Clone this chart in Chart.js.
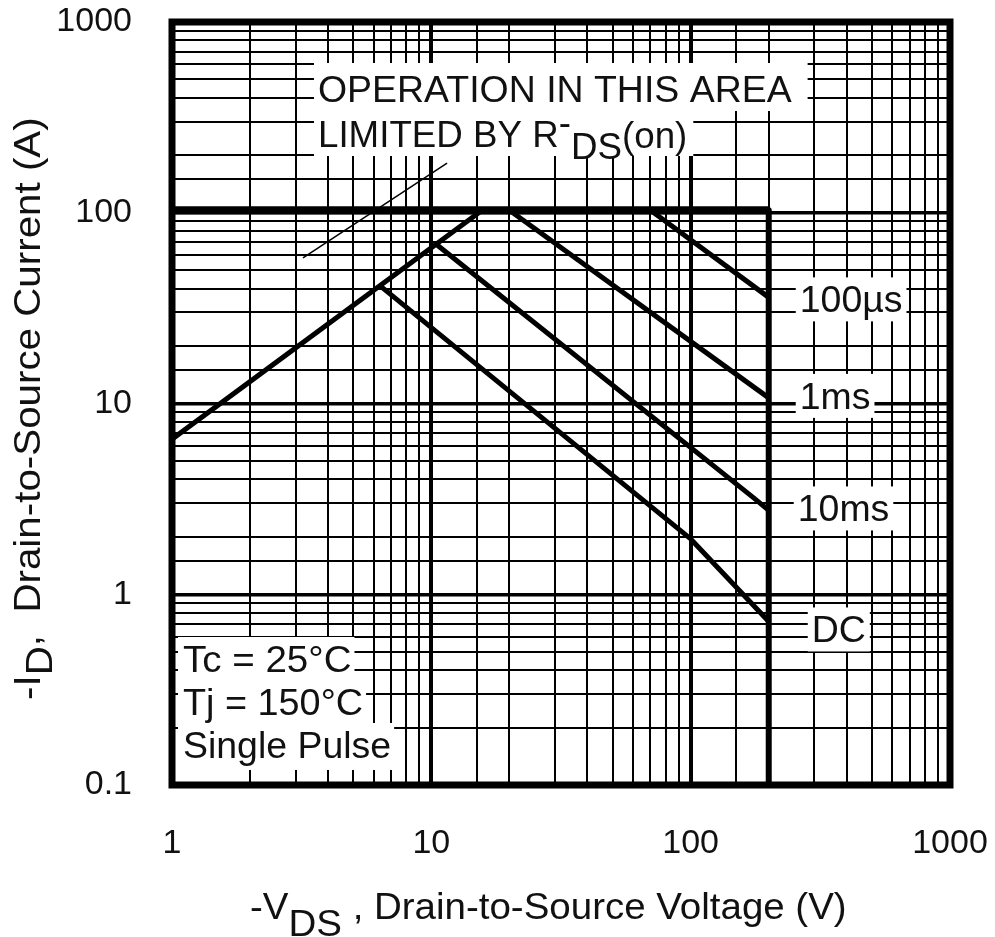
<!DOCTYPE html>
<html lang="en">
<head>
<meta charset="UTF-8">
<title>Maximum Safe Operating Area</title>
<script src="https://cdn.jsdelivr.net/npm/chart.js@4"></script>
<style>
  body { margin: 0; background: #fff; }
  #wrap { width: 995px; height: 937px; }
</style>
</head>
<body>
<div id="wrap"><canvas id="soa" width="995" height="937"></canvas></div>
<script>
// ---- values (V in volts, I in amps) ----
const xTickValues = [1, 10, 100, 1000];
const xTickLabels = ['1', '10', '100', '1000'];
const yTickValues = [0.1, 1, 10, 100, 1000];
const yTickLabels = ['0.1', '1', '10', '100', '1000'];

const rdsV = [1, 15.7];          // RDS(on) limit
const rdsI = [6.5, 103];
const limitV = [1, 200];         // current limit
const limitI = [103, 103];
const vmaxV = [200, 200];        // voltage limit
const vmaxI = [103, 0.1];
const us100V = [70, 200];
const us100I = [103, 36];
const ms1V = [20, 200];
const ms1I = [103, 10.7];
const ms10V = [10.5, 175, 200];
const ms10I = [68, 3.2, 2.75];
const dcV = [6.4, 100, 200];
const dcI = [41, 1.95, 0.72];
const pointerV = [3.2, 11.5];
const pointerI = [58, 182];

const FONT = '"Liberation Sans", Arial, Helvetica, sans-serif';

function pts(xs, ys) {
    return xs.map((x, i) => ({ x: x, y: ys[i] }));
}

function isDecade(v) {
    const l = Math.log10(v);
    return Math.abs(l - Math.round(l)) < 1e-6;
}

function tickText(values, labels, v) {
    const i = values.findIndex(t => Math.abs(Math.log10(t) - Math.log10(v)) < 1e-6);
    return i >= 0 ? labels[i] : '';
}

function line(data, width) {
    return {
        data: data,
        borderColor: '#000',
        borderWidth: width,
        pointRadius: 0,
        fill: false,
        tension: 0,
        borderJoinStyle: 'round'
    };
}

// no extra room for edge tick labels, the plot area is fixed by the layout padding
function noEdgePadding(s) {
    s.paddingTop = 0;
    s.paddingBottom = 0;
    s.paddingLeft = 0;
    s.paddingRight = 0;
}

// pieces: [{t, dy}] drawn left to right; y is the cap centre of the main line
function textRun(ctx, x, y, pieces, size, box, sx) {
    sx = sx || 1;
    ctx.save();
    ctx.font = size + 'px ' + FONT;
    let w = 0;
    pieces.forEach(p => { w += ctx.measureText(p.t).width; });
    w *= sx;
    if (box) {
        ctx.fillStyle = '#fff';
        ctx.fillRect(x - box[0], y - box[1], w + box[0] + box[2], box[1] + box[3]);
    }
    ctx.translate(x, y);
    ctx.scale(sx, 1);
    ctx.fillStyle = '#111';
    ctx.textBaseline = 'alphabetic';
    ctx.textAlign = 'left';
    let cx = 0;
    pieces.forEach(p => {
        ctx.fillText(p.t, cx, 0.36 * size + (p.dy || 0));
        cx += ctx.measureText(p.t).width;
    });
    ctx.restore();
}

const annotations = {
    id: 'annotations',
    afterDraw(chart) {
        const ctx = chart.ctx;
        const a = chart.chartArea;
        const xs = chart.scales.x;
        const ys = chart.scales.y;
        const right = xs.getPixelForValue(200) + 31;
        ctx.save();

        // text boxes inside the plot
        textRun(ctx, 318, 89, [{ t: 'OPERATION IN THIS AREA' }], 36, [4, 26, 16, 22], 1.04);
        textRun(ctx, 318, 134, [
            { t: 'LIMITED BY R' },
            { t: '-', dy: -12 },
            { t: 'DS', dy: 12 },
            { t: '(on)', dy: 1 }
        ], 36, [4, 23, 6, 22], 1.02);

        textRun(ctx, right, ys.getPixelForValue(36) + 2, [{ t: '100\u00b5s' }], 36, [4, 22, 4, 22], 1.04);
        textRun(ctx, right, ys.getPixelForValue(10.7) - 2, [{ t: '1ms' }], 36, [4, 22, 4, 22], 1.04);
        textRun(ctx, right - 2, ys.getPixelForValue(2.75) - 2, [{ t: '10ms' }], 36, [4, 22, 4, 22], 1.04);
        textRun(ctx, right + 12, ys.getPixelForValue(0.72) + 8, [{ t: 'DC' }], 36, [4, 22, 4, 22], 1.04);

        textRun(ctx, a.left + 11, 659, [{ t: 'Tc = 25\u00b0C' }], 36, [5, 22, 3, 21], 1.07);
        textRun(ctx, a.left + 11, 702, [{ t: 'Tj = 150\u00b0C' }], 36, [5, 22, 3, 21], 1.05);
        textRun(ctx, a.left + 11, 745, [{ t: 'Single Pulse' }], 36, [5, 22, 3, 25], 1.04);

        // axis titles
        textRun(ctx, 250, 906, [
            { t: '-V' },
            { t: 'DS', dy: 17 },
            { t: ' , Drain-to-Source Voltage (V)' }
        ], 37, null, 1.04);

        ctx.save();
        ctx.translate(27, 700);
        ctx.rotate(-Math.PI / 2);
        textRun(ctx, 0, 0, [
            { t: '-I' },
            { t: 'D', dy: 12 },
            { t: ',  Drain-to-Source Current (A)' }
        ], 37, null, 1.09);
        ctx.restore();

        // heavy frame
        ctx.strokeStyle = '#000';
        ctx.lineWidth = 7;
        ctx.strokeRect(a.left, a.top, a.right - a.left, a.bottom - a.top);
        ctx.restore();
    }
};

new Chart(document.getElementById('soa'), {
    type: 'line',
    data: {
        datasets: [
            line(pts(limitV, limitI), 8),
            line(pts(vmaxV, vmaxI), 6),
            line(pts(rdsV, rdsI), 5),
            line(pts(us100V, us100I), 5),
            line(pts(ms1V, ms1I), 5),
            line(pts(ms10V, ms10I), 5),
            line(pts(dcV, dcI), 5),
            line(pts(pointerV, pointerI), 1.5)
        ]
    },
    options: {
        responsive: false,
        animation: false,
        layout: { padding: { left: 0, top: 22, right: 45, bottom: 0 } },
        plugins: {
            legend: { display: false },
            tooltip: { enabled: false }
        },
        scales: {
            x: {
                type: 'logarithmic',
                min: 1,
                max: 1000,
                border: { display: false },
                grid: {
                    color: '#000',
                    lineWidth: c => isDecade(c.tick.value) ? 4 : 2,
                    drawTicks: false
                },
                ticks: {
                    autoSkip: false,
                    maxRotation: 0,
                    minRotation: 0,
                    padding: 38,
                    color: '#111',
                    font: { size: 34, family: FONT },
                    callback: v => tickText(xTickValues, xTickLabels, v)
                },
                afterFit: s => { s.height = 152; noEdgePadding(s); }
            },
            y: {
                type: 'logarithmic',
                min: 0.1,
                max: 1000,
                border: { display: false },
                grid: {
                    color: '#000',
                    lineWidth: c => isDecade(c.tick.value) ? 3.5 : 2,
                    drawTicks: false
                },
                ticks: {
                    autoSkip: false,
                    padding: 40,
                    color: '#111',
                    font: { size: 34, family: FONT },
                    callback: v => tickText(yTickValues, yTickLabels, v)
                },
                afterFit: s => { s.width = 172; noEdgePadding(s); }
            }
        }
    },
    plugins: [annotations]
});
</script>
</body>
</html>
